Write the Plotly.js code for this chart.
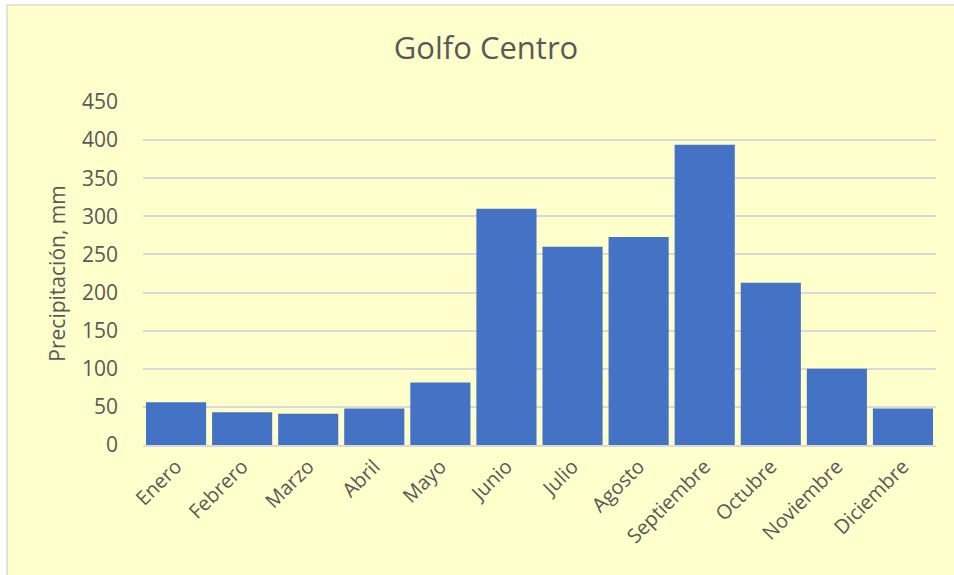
<!DOCTYPE html>
<html>
<head>
<meta charset="utf-8">
<script src="https://cdn.plot.ly/plotly-3.0.1.min.js"></script>
<style>html,body{margin:0;padding:0;background:#fff;}#chart{width:954px;height:575px;}</style>
</head>
<body>
<div id="chart"></div>
<script>
const months = ["Enero","Febrero","Marzo","Abril","Mayo","Junio","Julio","Agosto","Septiembre","Octubre","Noviembre","Diciembre"];
const precipitation = [56, 43, 41, 48, 82, 310, 260, 273, 394, 213, 100, 48];
const yTicks = [0, 50, 100, 150, 200, 250, 300, 350, 400, 450];

const L = 143, R = 18, T = 102, B = 130;
const W = 954, H = 575;
const pw = W - L - R, ph = H - T - B;

const trace = {
  type: 'bar',
  x: months,
  y: precipitation,
  marker: {color: '#4472C4', line: {color: '#4472C4', width: 0}},
  hoverinfo: 'x+y'
};

const layout = {
  width: W, height: H,
  margin: {l: L, r: R, t: T, b: B},
  paper_bgcolor: '#ffffff',
  plot_bgcolor: 'rgba(0,0,0,0)',
  bargap: 0.09,
  showlegend: false,
  font: {family: 'Open Sans, sans-serif', color: '#595959'},
  title: {
    text: 'Golfo Centro',
    font: {family: 'Open Sans, sans-serif', size: 31, color: '#595959'},
    x: 486 / W, xref: 'container', xanchor: 'center',
    y: 1 - 48 / H, yref: 'container', yanchor: 'middle'
  },
  xaxis: {
    type: 'category',
    tickangle: -45,
    tickfont: {size: 20, color: '#595959'},
    showgrid: false,
    showline: true, linecolor: '#D9D9D9', linewidth: 2,
    ticks: '', ticklen: 0,
    automargin: false
  },
  yaxis: {
    range: [0, 450],
    tickvals: yTicks,
    ticktext: yTicks.map(String),
    tickfont: {size: 21, color: '#595959'},
    showgrid: true, gridcolor: '#D9D9D9', gridwidth: 2,
    zeroline: false, showline: false,
    ticks: '', ticklabelstandoff: 24,
    title: {text: 'Precipitación, mm', font: {size: 21, color: '#595959'}, standoff: 10},
    automargin: false
  },
  shapes: [{
    type: 'rect', layer: 'below',
    xref: 'paper', yref: 'paper',
    x0: (7 - L) / pw, x1: (W + 2 - L) / pw,
    y0: (T + ph - (H + 2)) / ph, y1: (T + ph - 5) / ph,
    fillcolor: '#FFFFCC',
    line: {color: '#D9D9D9', width: 1.5}
  }]
};

Plotly.newPlot('chart', [trace], layout, {displayModeBar: false, staticPlot: true});
</script>
</body>
</html>
